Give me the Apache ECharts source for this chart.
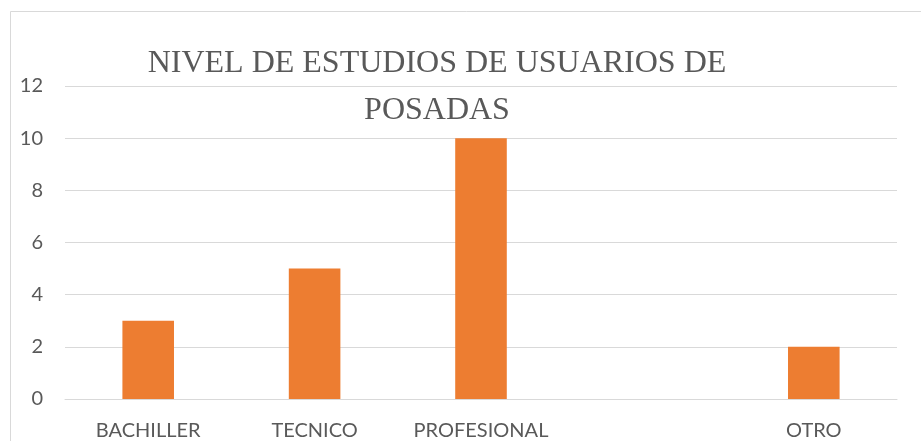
<!DOCTYPE html>
<html>
<head>
<meta charset="utf-8">
<script src="https://cdn.jsdelivr.net/npm/echarts@6/dist/echarts.min.js"></script>
<style>
  html, body { margin: 0; padding: 0; background: #fff; }
  #main { width: 921px; height: 441px; }
</style>
</head>
<body>
<div id="main"></div>
<script>
  // datos del grafico
  var categorias = ['BACHILLER', 'TECNICO', 'PROFESIONAL', '', 'OTRO'];
  var usuarios = [3, 5, 10, null, 2];
  var titulo = 'NIVEL DE ESTUDIOS DE USUARIOS DE\nPOSADAS';

  var myChart = echarts.init(document.getElementById('main'));

  var option = {
    backgroundColor: '#fff',
    animation: false,
    title: {
      text: titulo,
      left: 437,
      top: 40,
      padding: 0,
      textAlign: 'center',
      textStyle: {
        fontFamily: 'Liberation Serif',
        fontSize: 32,
        fontWeight: 'normal',
        lineHeight: 47,
        color: '#595959'
      }
    },
    graphic: [{
      type: 'rect',
      silent: true,
      shape: { x: 10.5, y: 11.5, width: 1000, height: 1000 },
      style: { fill: 'none', stroke: '#d9d9d9', lineWidth: 1 }
    }],
    grid: {
      left: 65,
      right: 24,
      top: 86,
      bottom: 41
    },
    xAxis: {
      type: 'category',
      data: categorias,
      axisLine: { lineStyle: { color: '#d9d9d9' } },
      axisTick: { show: false },
      axisLabel: {
        color: '#595959',
        fontFamily: 'Lato',
        fontSize: 20,
        margin: 22,
        interval: 0
      }
    },
    yAxis: {
      type: 'value',
      min: 0,
      max: 12,
      interval: 2,
      axisLine: { show: false },
      axisTick: { show: false },
      splitLine: { lineStyle: { color: '#d9d9d9', width: 1 } },
      axisLabel: {
        color: '#595959',
        fontFamily: 'Lato',
        fontSize: 20,
        margin: 22
      }
    },
    series: [{
      type: 'bar',
      data: usuarios,
      barWidth: '31%',
      itemStyle: { color: '#ED7D31' }
    }]
  };

  myChart.setOption(option);
</script>
</body>
</html>
